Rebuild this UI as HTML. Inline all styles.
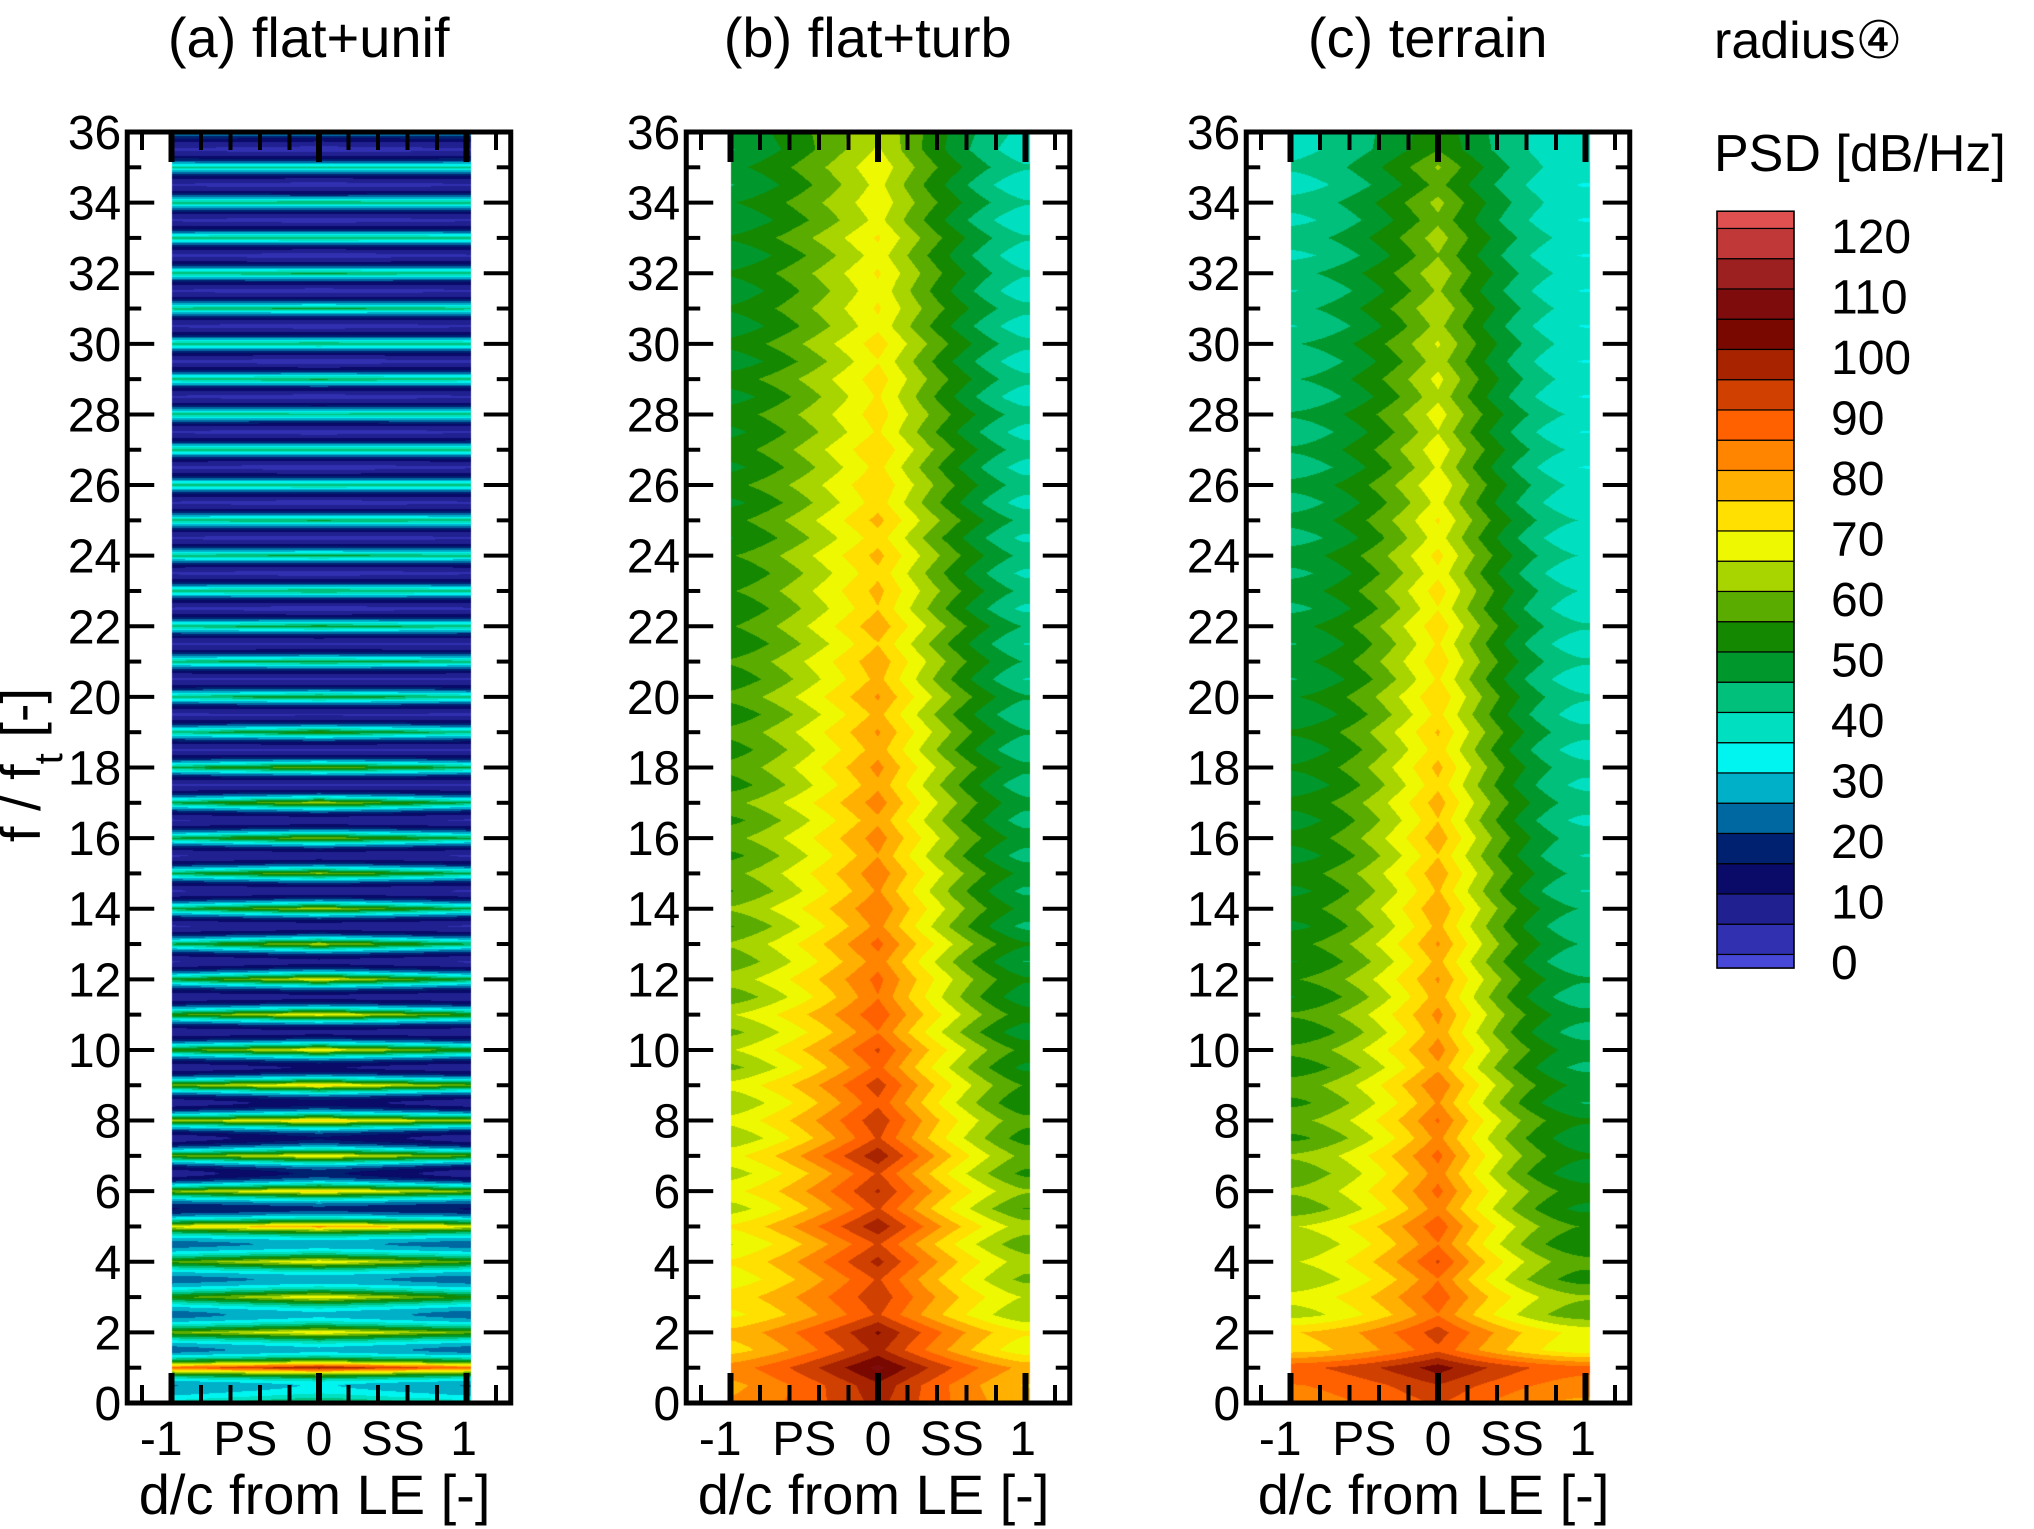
<!DOCTYPE html>
<html><head><meta charset="utf-8">
<style>
html,body{margin:0;padding:0;background:#fff;}
#wrap{position:relative;width:2034px;height:1529px;overflow:hidden;}
canvas,svg{position:absolute;left:0;top:0;}
text{font-family:"Liberation Sans Narrow","Liberation Sans",sans-serif;fill:#000;}
.wide{font-family:"Liberation Sans","DejaVu Sans",sans-serif;}
</style></head>
<body>
<div id="wrap">
<canvas id="heat" width="2034" height="1529"></canvas>
<svg id="axes" width="2034" height="1529" xmlns="http://www.w3.org/2000/svg"></svg>
</div>
<script>
// frequency grid: f = 0, 0.5, ..., 36 (73 values)
const fStep = 0.5;
const aCenter = [50, 32,102, 30,72, 30,72, 28,72, 28,82, 20,75, 18,72, 16,75, 14,75, 12,72, 10,72, 10,70, 10,65, 8,65, 8,62, 8,62, 8,65, 6,60, 6,55, 6,52, 6,50, 6,50, 5,48, 5,48, 5,47, 5,46, 5,46, 5,45, 5,48, 5,47, 5,47, 5,48, 5,47, 5,46, 5,42, 5,30];
const aEdge   = [40, 26,88, 24,60, 24,55, 24,58, 24,70, 16,62, 8,58, 8,62, 8,60, 8,55, 8,55, 8,50, 6,48, 6,48, 6,48, 6,48, 6,48, 6,48, 6,45, 6,45, 6,45, 6,45, 6,45, 6,45, 6,45, 6,45, 6,45, 6,45, 6,45, 6,45, 6,45, 6,45, 6,45, 6,45, 6,42, 6,30];
const bCenter = [98, 100,108, 98,102, 92,95, 92,98, 92,100, 92,97, 92,100, 92,95, 90,94, 88,92, 86,90, 86,88, 84,88, 83,86, 82,85, 81,84, 80,84, 80,83, 79,82, 78,82, 78,80, 76,80, 76,78, 75,78, 74,78, 74,76, 73,76, 72,74, 72,74, 71,74, 70,72, 70,72, 69,72, 68,70, 68,70, 67,66];
const bPs     = [82, 80,84, 74,78, 70,74, 68,72, 66,72, 64,70, 64,70, 62,68, 62,68, 60,66, 60,66, 58,64, 58,62, 56,62, 56,60, 55,60, 55,60, 54,58, 54,58, 53,58, 53,57, 52,56, 52,56, 52,56, 51,55, 50,55, 50,54, 50,54, 49,54, 48,53, 48,52, 48,52, 47,52, 47,51, 46,50, 46,48];
const bSs     = [78, 76,80, 68,72, 62,66, 60,64, 58,64, 56,62, 55,60, 54,58, 52,56, 50,55, 48,54, 48,52, 46,52, 45,50, 45,50, 44,49, 44,48, 43,48, 42,47, 42,47, 41,46, 41,46, 40,45, 40,45, 40,45, 39,44, 39,44, 39,44, 38,43, 38,43, 38,43, 38,42, 38,42, 37,42, 37,42, 38,40];
const cCenter = [92, 96,104, 90,94, 86,90, 86,92, 86,90, 84,88, 84,88, 83,87, 82,86, 80,84, 80,83, 79,82, 78,82, 78,81, 77,80, 76,80, 76,79, 75,78, 74,77, 73,76, 72,75, 72,75, 71,74, 70,73, 69,72, 68,71, 67,70, 66,69, 65,68, 64,67, 63,66, 62,65, 61,64, 60,63, 58,62, 56,55];
const cPs     = [84, 86,90, 74,76, 64,68, 62,66, 62,66, 58,62, 58,62, 55,60, 55,59, 53,58, 52,57, 51,56, 51,55, 50,54, 50,54, 49,53, 49,53, 48,52, 48,52, 47,51, 46,50, 46,50, 45,49, 45,49, 44,48, 44,48, 43,47, 43,47, 42,46, 42,46, 41,45, 41,45, 40,44, 40,43, 39,42, 40,40];
const cSs     = [80, 84,88, 68,70, 58,62, 54,58, 52,56, 50,54, 48,52, 48,52, 46,50, 45,49, 44,48, 43,47, 42,46, 42,46, 41,45, 41,44, 40,44, 40,43, 39,43, 39,42, 38,42, 38,42, 38,41, 37,41, 37,41, 37,40, 36,40, 36,40, 36,39, 36,39, 36,39, 36,39, 36,39, 36,38, 36,38, 37,37];

const panelTitles = ["(a) flat+unif", "(b) flat+turb", "(c) terrain"];
const yTickLabels = ["0","2","4","6","8","10","12","14","16","18","20","22","24","26","28","30","32","34","36"];
const cbLabels = ["0","10","20","30","40","50","60","70","80","90","100","110","120"];
const cbLevels = [1.25,6.25,11.25,16.25,21.25,26.25,31.25,36.25,41.25,46.25,51.25,56.25,61.25,66.25,71.25,76.25,81.25,86.25,91.25,96.25,101.25,106.25,111.25,116.25,121.25];
const cbColors = ["#4848d8","#3030b0","#202090","#0a0a68","#002070","#0068a0","#00b0c8","#00f4f0","#00e0c0","#00c07c","#00982c","#148800","#5aac00","#a8d400","#eef800","#ffe000","#ffb000","#ff8400","#ff6000","#d04000","#a82400","#780800","#7e0c0c","#9c2020","#c03838","#e05050"];

// layout
const centers = [319, 878, 1438];
const unitX = 147.5;
const y0pix = 1403, y36pix = 132;
const unitY = (y0pix - y36pix) / 36;
function xPix(p, x){ return centers[p] + x * unitX; }
function yPix(f){ return y0pix - f * unitY; }
function cbY(v){ return 962 - v * (726 / 120); }

const panels = [
  {center:aCenter, ps:aEdge, ss:aEdge, pw:1.0, sharp:1.8},
  {center:bCenter, ps:bPs, ss:bSs, pw:1.3, sharp:1},
  {center:cCenter, ps:cPs, ss:cSs, pw:1.6, sharp:1}
];
function interp(arr, f, sharp){
  let t = f / fStep; let i = Math.floor(t);
  if (i < 0) return arr[0];
  if (i >= arr.length - 1) return arr[arr.length - 1];
  let r = t - i;
  const a = arr[i], b = arr[i + 1];
  if (sharp === 1) return a * (1 - r) + b * r;
  if (a >= b){ const w = Math.pow(1 - r, sharp); return b + (a - b) * w; }
  const w = Math.pow(r, sharp); return a + (b - a) * w;
}
function colorIdx(v){ let k = 0; while (k < cbLevels.length && v >= cbLevels[k]) k++; return k; }
function hex(c){ return [parseInt(c.substr(1,2),16), parseInt(c.substr(3,2),16), parseInt(c.substr(5,2),16)]; }
const rgb = cbColors.map(hex);

const ctx = document.getElementById('heat').getContext('2d');
panels.forEach((P, p) => {
  const xa = Math.round(xPix(p, -1)), xb = Math.round(xPix(p, 1.03));
  const ya = Math.round(yPix(36)), yb = Math.round(yPix(0));
  const w = xb - xa, h = yb - ya;
  const img = ctx.createImageData(w, h);
  for (let j = 0; j < h; j++){
    const f = (y0pix - (ya + j + 0.5)) / unitY;
    const c = interp(P.center, f, P.sharp), l = interp(P.ps, f, P.sharp), r = interp(P.ss, f, P.sharp);
    for (let i = 0; i < w; i++){
      const x = (xa + i + 0.5 - centers[p]) / unitX;
      const ax = Math.min(1, Math.abs(x));
      const g = Math.pow(1 - ax, P.pw);
      const e = x < 0 ? l : r;
      const v = e + (c - e) * g;
      const col = rgb[colorIdx(v)];
      const o = (j * w + i) * 4;
      img.data[o] = col[0]; img.data[o+1] = col[1]; img.data[o+2] = col[2]; img.data[o+3] = 255;
    }
  }
  ctx.putImageData(img, xa, ya);
});

const NS = 'http://www.w3.org/2000/svg';
const svg = document.getElementById('axes');
function mk(tag, attrs, parent){
  const el = document.createElementNS(NS, tag);
  for (const k in attrs) el.setAttribute(k, attrs[k]);
  (parent || svg).appendChild(el); return el;
}
function line(x1,y1,x2,y2,w,parent){ return mk('line',{x1:x1,y1:y1,x2:x2,y2:y2,stroke:'#000','stroke-width':w},parent); }

panels.forEach((P, p) => {
  const g = mk('g', {});
  
  
  const L = xPix(p, -1.3), R = xPix(p, 1.3), T = yPix(36), B = yPix(0);
  const fr = mk('rect', {x:L, y:T, width:R-L, height:B-T, fill:'none', stroke:'#000', 'stroke-width':5}, g);
  
  
  for (let f = 1; f < 36; f++){
    const len = (f % 2 === 0) ? 27 : 14;
    line(L, yPix(f), L + len, yPix(f), 4, g);
    line(R, yPix(f), R - len, yPix(f), 4, g);
  }
  for (let k = -6; k <= 6; k++){
    const x = k * 0.2;
    const major = (k % 5 === 0);
    const px = xPix(p, x);
    line(px, T, px, T + (major ? 30 : 18), major ? 6 : 4, g);
    line(px, B, px, B - (major ? 30 : 18), major ? 6 : 4, g);
  }
  yTickLabels.forEach((lab, i) => {
    const t = mk('text', {x:L - 6, y:yPix(i*2) + 17, 'font-size':48, 'text-anchor':'end'}, g);
    t.textContent = lab;
    
    
  });
  [["-1",-1.07],["PS",-0.5],["0",0],["SS",0.5],["1",0.98]].forEach(d => {
    const t = mk('text', {x:xPix(p, d[1]), y:1455, 'font-size':48, 'text-anchor':'middle'}, g);
    t.textContent = d[0];
    
    
  });
  const xt = mk('text', {x:xPix(p, -0.03), y:1514, 'font-size':56, 'text-anchor':'middle'}, g);
  xt.textContent = 'd/c from LE [-]';
  
  
  const tt = mk('text', {x:xPix(p, -0.07), y:57, 'font-size':56, 'text-anchor':'middle'}, g);
  tt.textContent = panelTitles[p];
  
  
});

const yt = mk('text', {x:0, y:0, 'font-size':56, 'text-anchor':'middle', transform:'translate(40,765) rotate(-90)'});
yt.innerHTML = 'f / f<tspan baseline-shift="sub" font-size="40">t</tspan> [-]';



const cb = mk('g', {});


const vmin = -1, vmax = 124.1;
const bounds = [vmin].concat(cbLevels).concat([vmax]);
for (let k = 0; k < cbColors.length; k++){
  const yTop = cbY(bounds[k+1]), yBot = cbY(bounds[k]);
  const r = mk('rect', {x:1717, y:yTop, width:77, height:yBot - yTop, fill:cbColors[k], stroke:'#000', 'stroke-width':1.2}, cb);
  
  
}
mk('rect', {x:1717, y:cbY(vmax), width:77, height:cbY(vmin)-cbY(vmax), fill:'none', stroke:'#000', 'stroke-width':1.5}, cb);
cbLabels.forEach((lab, i) => {
  const t = mk('text', {x:1831, y:cbY(i*10) + 17, 'font-size':48, 'class':'wide'}, cb);
  t.textContent = lab;
  
  
});
const rt = mk('text', {x:1714, y:58, 'font-size':52, 'class':'wide'});
rt.textContent = 'radius④';


const pt = mk('text', {x:1714, y:171, 'font-size':52, 'class':'wide'});
pt.textContent = 'PSD [dB/Hz]';


</script>
</body></html>
